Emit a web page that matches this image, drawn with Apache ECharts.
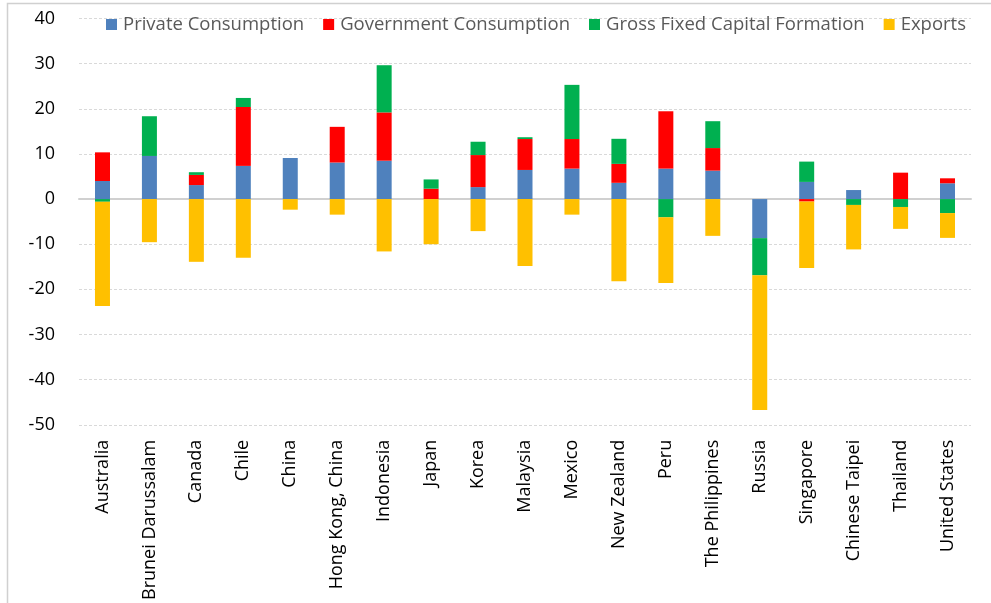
<!DOCTYPE html>
<html>
<head>
<meta charset="utf-8">
<script src="https://cdn.jsdelivr.net/npm/echarts@6/dist/echarts.min.js"></script>
<style>
  html, body { margin: 0; padding: 0; background: #fff; }
  #chart { width: 991px; height: 603px; }
</style>
</head>
<body>
<div id="chart"></div>
<script>
// Economies on the category axis
const categories = [
  "Australia", "Brunei Darussalam", "Canada", "Chile", "China",
  "Hong Kong, China", "Indonesia", "Japan", "Korea", "Malaysia",
  "Mexico", "New Zealand", "Peru", "The Philippines", "Russia",
  "Singapore", "Chinese Taipei", "Thailand", "United States"
];

// Contributions by expenditure component (percentage points)
const privateConsumption = [4.0, 9.55, 3.1, 7.35, 9.1, 8.1, 8.5, 0, 2.65, 6.45, 6.75, 3.6, 6.75, 6.3, -8.65, 3.8, 2.0, 0, 3.5];
const governmentConsumption = [6.35, 0, 2.25, 13.05, 0, 7.9, 10.7, 2.3, 7.1, 6.85, 6.55, 4.2, 12.7, 5.0, 0, -0.55, 0, 5.85, 1.1];
const grossFixedCapital = [-0.6, 8.8, 0.6, 2.0, 0, 0, 10.45, 2.05, 2.95, 0.4, 12.0, 5.55, -4.05, 5.95, -8.25, 4.5, -1.3, -1.75, -3.1];
const exportsContribution = [-23.1, -9.55, -13.9, -13.0, -2.35, -3.45, -11.6, -10.0, -7.1, -14.8, -3.45, -18.2, -14.55, -8.15, -29.85, -14.7, -9.85, -4.85, -5.5];

const seriesNames = ["Private Consumption", "Government Consumption", "Gross Fixed Capital Formation", "Exports"];
const seriesColors = ["#4F81BD", "#FF0000", "#00B050", "#FFC000"];
const seriesData = [privateConsumption, governmentConsumption, grossFixedCapital, exportsContribution];

const FONT = "'Open Sans', 'Noto Sans', sans-serif";

const chart = echarts.init(document.getElementById('chart'), null, { renderer: 'canvas' });

chart.setOption({
  animation: false,
  backgroundColor: '#ffffff',
  graphic: [{
    type: 'rect',
    silent: true,
    shape: { x: 7.5, y: 3.5, width: 1000, height: 700 },
    style: { fill: 'none', stroke: '#d0d0d0', lineWidth: 1.5 },
    z: -1
  }],
  legend: {
    left: 106,
    top: 15,
    padding: 0,
    itemWidth: 11,
    itemHeight: 11,
    itemGap: 19,
    icon: 'rect',
    textStyle: { fontFamily: FONT, fontSize: 18.5, color: '#595959', padding: [0, 0, 0, 1] },
    data: seriesNames
  },
  grid: { left: 79, right: 20, top: 18.5, bottom: 177, containLabel: false },
  xAxis: {
    type: 'category',
    data: categories,
    axisLine: { onZero: true, lineStyle: { color: '#d0d0d0', width: 2 } },
    axisTick: { show: false },
    axisLabel: {
      rotate: 90,
      interval: 0,
      margin: 15,
      fontFamily: FONT,
      fontSize: 18,
      color: '#000'
    }
  },
  yAxis: {
    type: 'value',
    min: -50,
    max: 40,
    interval: 10,
    axisLine: { show: false },
    axisTick: { show: false },
    axisLabel: { fontFamily: FONT, fontSize: 18, color: '#000', margin: 24 },
    splitLine: { lineStyle: { color: '#d9d9d9', type: [3, 2], width: 1 } }
  },
  series: seriesData.map((d, i) => ({
    name: seriesNames[i],
    type: 'bar',
    stack: 'total',
    data: d,
    barWidth: 15,
    itemStyle: { color: seriesColors[i] }
  }))
});
</script>
</body>
</html>
